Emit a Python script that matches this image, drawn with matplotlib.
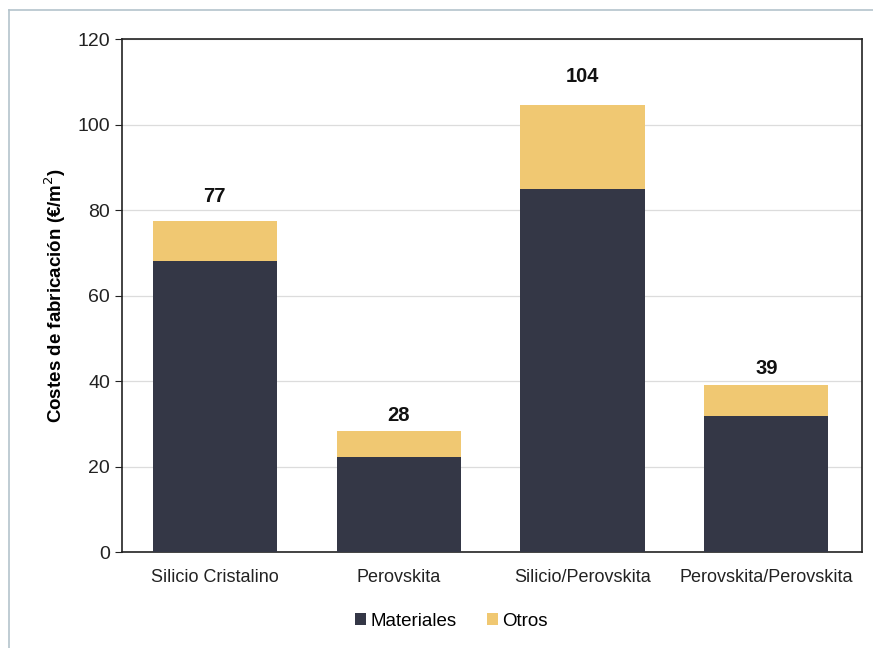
import matplotlib.pyplot as plt
import numpy as np

plt.rcParams['font.family'] = ['Liberation Sans', 'DejaVu Sans']

categories = ["Silicio Cristalino", "Perovskita", "Silicio/Perovskita", "Perovskita/Perovskita"]
materiales = [68.0, 22.2, 84.8, 31.8]
otros = [9.4, 6.1, 19.7, 7.2]
totales = [77, 28, 104, 39]
label_pad = [11, 4, 14, 5]  # points above bar top

color_mat = "#343746"
color_otros = "#F0C872"

fig = plt.figure(figsize=(8.73, 6.48), dpi=100)
ax = fig.add_axes([0.1397, 0.1481, 0.8477, 0.7917])

x = np.arange(len(categories))
mat = np.array(materiales)
otr = np.array(otros)
ax.bar(x, mat, width=0.675, color=color_mat, label="Materiales", zorder=3)
ax.bar(x, otr, width=0.675, bottom=mat, color=color_otros, label="Otros", zorder=3)

for i in range(len(x)):
    ax.annotate(str(totales[i]), (x[i], mat[i] + otr[i]), xytext=(0, label_pad[i]),
                textcoords="offset points", ha="center", va="bottom",
                fontsize=14.5, fontweight="bold", color="#111111")

ax.set_xlim(-0.505, 3.52)
ax.set_ylim(0, 120)
ax.set_yticks(np.arange(0, 121, 20))
ax.set_xticks(x)
ax.set_xticklabels(categories, fontsize=13, color="#222222")
ax.tick_params(axis="x", length=0, pad=12)
ax.tick_params(axis="y", length=5, labelsize=14, colors="#222222", direction="out")
ax.yaxis.grid(True, color="#dcdcdc", linewidth=0.9, zorder=0)
for s in ax.spines.values():
    s.set_color("#222222")
    s.set_linewidth(1.2)

ax.set_ylabel("Costes de fabricación (€/m$^2$)", fontsize=13.5, fontweight="bold", labelpad=7)

ax.legend(loc="center", bbox_to_anchor=(0.445, -0.135), ncol=2, frameon=False,
          fontsize=13.5, handlelength=0.6, handleheight=0.6, handletextpad=0.25,
          columnspacing=1.6)

# thin outer frame line (top and left)
fig.add_artist(plt.Line2D([9 / 873, 9 / 873], [0, 1 - 10 / 648], color="#b4c3cc", linewidth=1.2))
fig.add_artist(plt.Line2D([9 / 873, 1], [1 - 10 / 648, 1 - 10 / 648], color="#b4c3cc", linewidth=1.2))

plt.savefig("out.png", dpi=100)
